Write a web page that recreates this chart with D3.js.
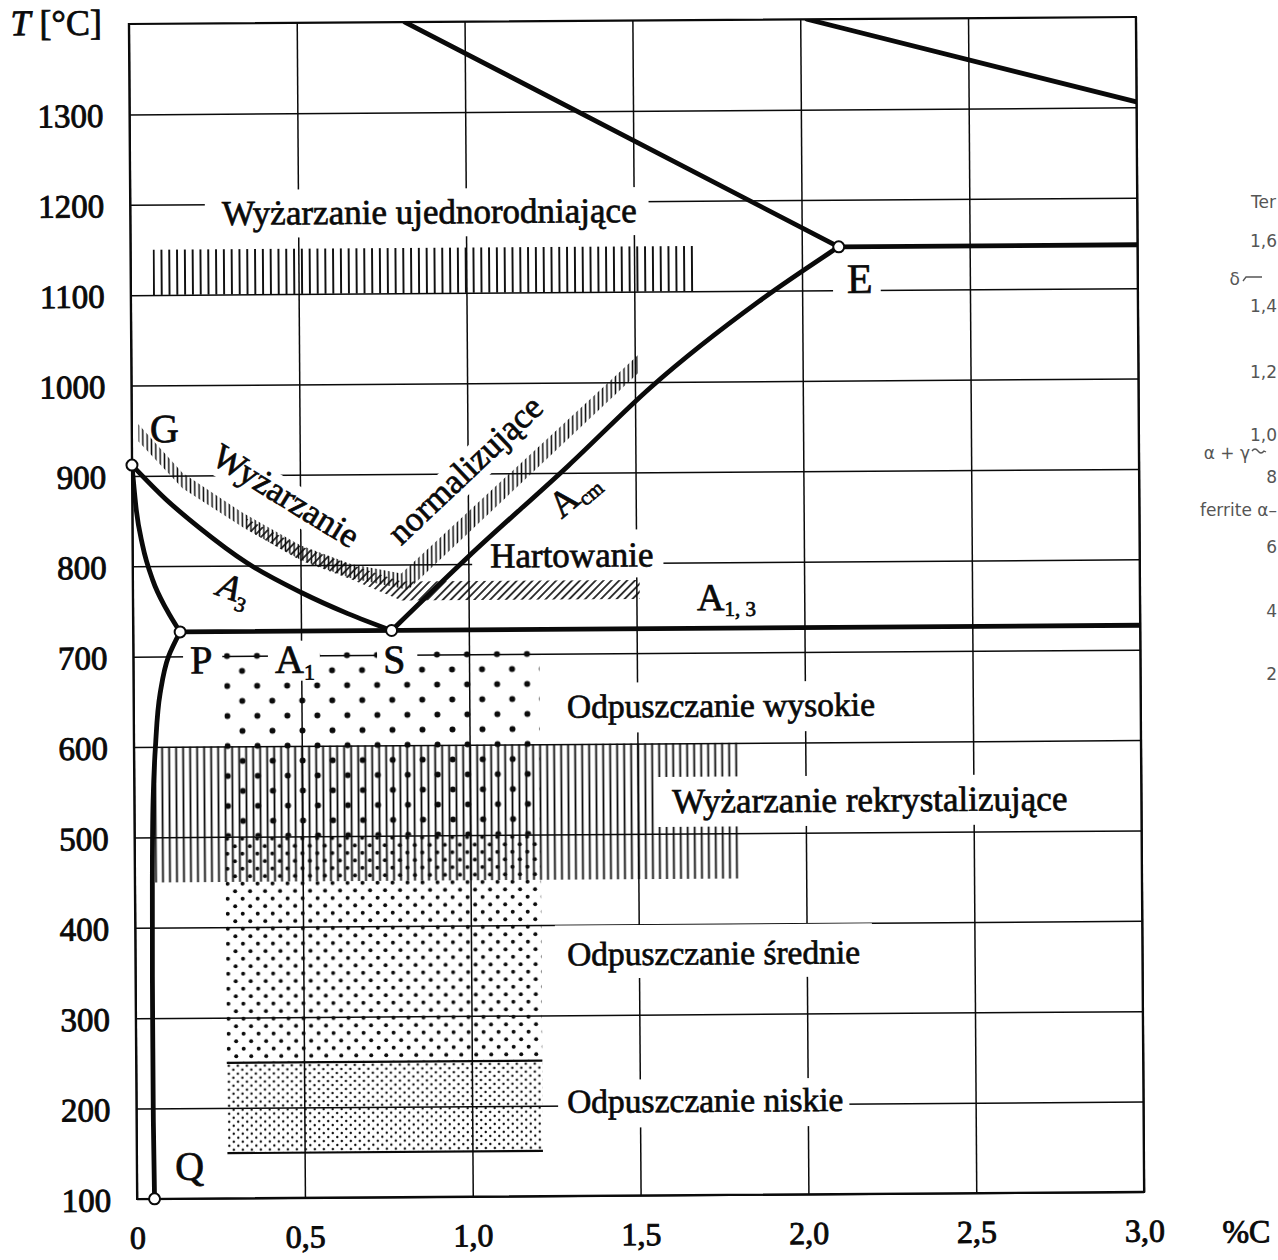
<!DOCTYPE html>
<html>
<head>
<meta charset="utf-8">
<script src="https://cdn.jsdelivr.net/npm/d3@7"></script>
<style>
  html, body { margin: 0; padding: 0; background: #fff; }
  svg { display: block; }
</style>
</head>
<body>
<svg id="chart" width="1278" height="1260"></svg>
<script>
// ---- axis ticks ----
const carbonTicks = [0, 0.5, 1.0, 1.5, 2.0, 2.5, 3.0];
const carbonTickLabels = ["0", "0,5", "1,0", "1,5", "2,0", "2,5", "3,0"];
const tempTicks = [100, 200, 300, 400, 500, 600, 700, 800, 900, 1000, 1100, 1200, 1300];
const tempTickLabels = ["100", "200", "300", "400", "500", "600", "700", "800", "900", "1000", "1100", "1200", "1300"];

// ---- Fe–Fe3C phase boundaries, [%C, °C] ----
const lineGS = [[0, 912], [0.1, 874], [0.2, 842], [0.34, 803], [0.5, 770], [0.64, 746], [0.77, 727]];
const lineGP = [[0, 912], [0.012, 862], [0.03, 823], [0.06, 784], [0.1, 752], [0.14, 727]];
const linePQ = [[0.14, 727], [0.105, 700], [0.079, 659], [0.064, 600], [0.056, 541], [0.052, 450], [0.05, 300], [0.05, 200], [0.052, 100]];
const linePSK = [[0.14, 727], [3.0, 727]];
const lineSE = [[0.77, 727], [1.0, 808], [1.3, 908], [1.55, 995], [1.87, 1088], [2.11, 1148]];
const lineECF = [[2.11, 1148], [3.0, 1148]];
const lineJE = [[0.822, 1400], [2.11, 1148]];
const lineBC = [[2.02, 1400], [3.0, 1306]];

// ---- characteristic points ----
const pointNames = ["G", "P", "S", "E", "Q"];
const pointC = [0, 0.14, 0.77, 2.11, 0.052];
const pointT = [912, 727, 727, 1148, 100];

// ---- heat-treatment ranges: [%C from, %C to, °C from, °C to] ----
const rangeHomogenizing = [0.066, 1.68, 1100, 1150];
const rangeRecrystallizing = [0.06, 1.8, 450, 600];
const rangeTemperHigh = [0.27, 1.21, 500, 700];
const rangeTemperMedium = [0.27, 1.21, 250, 500];
const rangeTemperLow = [0.27, 1.21, 150, 250];

// normalizing band (upper edge then lower edge), [%C, °C]
const normalizingUpper = [[0.02, 957], [0.15, 903], [0.33, 858], [0.5, 822], [0.65, 801], [0.8, 790], [1.51, 1030]];
const normalizingLower = [[1.51, 1010], [0.82, 772], [0.65, 785], [0.5, 806], [0.33, 842], [0.15, 886], [0.02, 938]];
// hardening band
const hardeningUpper = [[0.34, 852], [0.5, 821], [0.65, 800], [0.8, 781], [1.51, 781]];
const hardeningLower = [[1.51, 760], [0.8, 760], [0.65, 784], [0.5, 805], [0.34, 840]];

// ---- setup ----
const serif = '"Liberation Serif","Times New Roman",serif';
const ink = "#0a0a0a";
const svg = d3.select("#chart");
const defs = svg.append("defs");

const x = d3.scaleLinear().domain([0, 3]).range([133, 1140]);
const y = d3.scaleLinear().domain([100, 1400]).range([1195.5, 20.5]);

// the whole plate sits very slightly tilted
const root = svg.append("g").attr("transform", "rotate(-0.4,635,610)");

defs.append("clipPath").attr("id", "plotClip")
  .append("rect").attr("x", x(0)).attr("y", y(1400))
  .attr("width", x(3) - x(0)).attr("height", y(100) - y(1400));

// ---- patterns ----
function linePattern(id, step, sw, ox, oy, transform) {
  const p = defs.append("pattern").attr("id", id)
    .attr("patternUnits", "userSpaceOnUse")
    .attr("width", step).attr("height", 20)
    .attr("x", ox).attr("y", oy);
  if (transform) p.attr("patternTransform", transform);
  p.append("line").attr("x1", step / 2).attr("x2", step / 2)
    .attr("y1", -2).attr("y2", 22)
    .attr("stroke", ink).attr("stroke-width", sw);
}
function dotPattern(id, w, h, r, ox, oy) {
  const p = defs.append("pattern").attr("id", id)
    .attr("patternUnits", "userSpaceOnUse")
    .attr("width", w).attr("height", h)
    .attr("x", ox).attr("y", oy);
  [[w / 4, h / 4], [3 * w / 4, 3 * h / 4]].forEach(([cx, cy]) =>
    p.append("circle").attr("cx", cx).attr("cy", cy).attr("r", r).attr("fill", ink));
}

linePattern("hatchHomog", 7.8, 1.9, x(rangeHomogenizing[0]) - 2.9, 0);
linePattern("hatchRecryst", 7.0, 1.8, x(rangeRecrystallizing[0]) - 2.5, 0);
linePattern("ticksNorm", 4.3, 1.5, 0, 0);
linePattern("hatchHard", 5.6, 1.6, 0, 0, "rotate(45)");
dotPattern("dotsHigh", 30, 30, 3.0, x(rangeTemperHigh[0]) + 3 - 7.5, y(rangeTemperHigh[3]) - 7.5);
dotPattern("dotsMedium", 15, 15, 2.0, x(rangeTemperMedium[0]) + 2 - 3.75, y(rangeTemperMedium[3]) + 2 - 3.75);
dotPattern("dotsLow", 9, 8, 1.2, x(rangeTemperLow[0]) + 2 - 2.25, y(rangeTemperLow[3]) + 3 - 2);

// ---- axes with full-length ticks as the grid ----
const xAxis = d3.axisBottom(x).tickValues(carbonTicks)
  .tickFormat((d, i) => carbonTickLabels[i])
  .tickSize(-(y(100) - y(1400))).tickPadding(27);
const gx = root.append("g").attr("transform", `translate(0,${y(100)})`).call(xAxis);
gx.select(".domain").remove();
gx.selectAll(".tick line").attr("stroke", ink).attr("stroke-width", 1.5);
gx.selectAll(".tick text").attr("font-family", serif).attr("font-size", 32)
  .attr("fill", ink).attr("stroke", ink).attr("stroke-width", 0.9);

const yAxis = d3.axisLeft(y).tickValues(tempTicks)
  .tickFormat((d, i) => tempTickLabels[i])
  .tickSize(-(x(3) - x(0))).tickPadding(26);
const gy = root.append("g").attr("transform", `translate(${x(0)},0)`).call(yAxis);
gy.select(".domain").remove();
gy.selectAll(".tick line").attr("stroke", ink).attr("stroke-width", 1.5);
gy.selectAll(".tick text").attr("font-family", serif).attr("font-size", 33)
  .attr("dy", "0.36em")
  .attr("fill", ink).attr("stroke", ink).attr("stroke-width", 0.9);

// ---- heat-treatment zones ----
const zones = root.append("g");
function zoneRect(range, fill, extraTop) {
  const [c0, c1, t0, t1] = range;
  zones.append("rect")
    .attr("x", x(c0)).attr("width", x(c1) - x(c0))
    .attr("y", y(t1) - (extraTop || 0)).attr("height", y(t0) - y(t1) + (extraTop || 0))
    .attr("fill", `url(#${fill})`);
}
zoneRect(rangeHomogenizing, "hatchHomog");
zoneRect(rangeRecrystallizing, "hatchRecryst");
zoneRect(rangeTemperHigh, "dotsHigh", 3.5);
zoneRect(rangeTemperMedium, "dotsMedium");
zoneRect(rangeTemperLow, "dotsLow");
// low-tempering range is boxed top and bottom
[rangeTemperLow[2], rangeTemperLow[3]].forEach(t =>
  zones.append("line").attr("x1", x(rangeTemperLow[0])).attr("x2", x(rangeTemperLow[1]))
    .attr("y1", y(t)).attr("y2", y(t)).attr("stroke", ink).attr("stroke-width", 2.2));

const poly = d3.line().x(d => x(d[0])).y(d => y(d[1]));
zones.append("path").attr("d", poly(normalizingUpper.concat(normalizingLower)) + "Z")
  .attr("fill", "url(#ticksNorm)");
zones.append("path").attr("d", poly(hardeningUpper.concat(hardeningLower)) + "Z")
  .attr("fill", "url(#hatchHard)");

// ---- labels (white backing where they interrupt grid lines) ----
const labels = root.append("g");
function label(txt, c, t, o) {
  const size = o.size || 34;
  const g = labels.append("g")
    .attr("transform", `translate(${x(c)},${y(t)}) rotate(${o.angle || 0})`);
  const rect = g.append("rect").attr("fill", "#fff");
  const text = g.append("text")
    .attr("font-family", serif).attr("font-size", size)
    .attr("text-anchor", o.anchor || "start")
    .attr("fill", ink).attr("stroke", ink).attr("stroke-width", o.weight == null ? 0.7 : o.weight);
  if (o.italic) text.attr("font-style", "italic");
  text.append("tspan").text(txt);
  if (o.sub) {
    text.append("tspan").attr("font-size", o.subSize || size * 0.58)
      .attr("font-style", "normal")
      .attr("dy", o.subDy || size * 0.22).text(o.sub);
  }
  if (o.box) {
    const bb = text.node().getBBox();
    const [pl, pr, pt, pb] = o.box;
    rect.attr("x", bb.x - pl).attr("width", bb.width + pl + pr)
      .attr("y", -pt).attr("height", pt + pb);
  } else {
    rect.remove();
  }
  return g;
}

label("Wyżarzanie ujednorodniające", 0.273, 1177, { size: 35, box: [17, 12, 35, 13] });
label("Hartowanie", 1.065, 796, { size: 35, box: [18, 10, 37, 11] });
label("Odpuszczanie wysokie", 1.291, 629, { size: 33.5, box: [12, 14, 35, 15] });
label("Wyżarzanie rekrystalizujące", 1.602, 523, { size: 35, box: [15, 10, 36, 14] });
label("Odpuszczanie średnie", 1.286, 355, { size: 33.5, box: [12, 12, 40, 13] });
label("Odpuszczanie niskie", 1.283, 192, { size: 33.5, box: [9, 6, 33, 15] });
label("Wyżarzanie", 0.44, 866, { size: 35, anchor: "middle", angle: 32, box: [6, 6, 27, 9] });
label("normalizujące", 1.016, 895, { size: 35, anchor: "middle", angle: -43, box: [6, 6, 27, 9] });
label("A", 0.29, 762, { size: 36, italic: true, anchor: "middle", angle: 20, sub: "3", subSize: 21, subDy: 8 });
label("A", 1.338, 867, { size: 37, anchor: "middle", angle: -40, sub: "cm", subSize: 21, subDy: 6 });
label("A", 1.68, 747, { size: 38, sub: "1, 3", subSize: 21, subDy: 6 });
label("A", 0.422, 681, { size: 40, sub: "1", subSize: 22, subDy: 7, box: [7, 5, 32, 8] });
label("P", 0.169, 681, { size: 40, box: [7, 10, 32, 8] });
label("S", 0.744, 680, { size: 40, box: [6, 12, 32, 8] });
label("E", 2.134, 1097, { size: 42, box: [14, 8, 32, 8] });
label("G", 0.054, 937, { size: 40 });
label("Q", 0.114, 121, { size: 40 });

// ---- phase diagram lines ----
const phase = root.append("g").attr("clip-path", "url(#plotClip)")
  .attr("fill", "none").attr("stroke", ink).attr("stroke-width", 4.8)
  .attr("stroke-linejoin", "round").attr("stroke-linecap", "round");
const curveX = d3.line().x(d => x(d[0])).y(d => y(d[1])).curve(d3.curveMonotoneX);
const curveY = d3.line().x(d => x(d[0])).y(d => y(d[1])).curve(d3.curveMonotoneY);
[lineGS, lineGP, linePSK, lineSE, lineECF, lineJE, lineBC].forEach(l =>
  phase.append("path").attr("d", curveX(l)));
phase.append("path").attr("d", curveY(linePQ));

// frame
root.append("rect").attr("x", x(0)).attr("y", y(1400))
  .attr("width", x(3) - x(0)).attr("height", y(100) - y(1400))
  .attr("fill", "none").attr("stroke", ink).attr("stroke-width", 2.2);

// characteristic points
root.append("g").selectAll("circle").data(pointNames).join("circle")
  .attr("cx", (d, i) => x(pointC[i])).attr("cy", (d, i) => y(pointT[i]))
  .attr("r", 5.5).attr("fill", "#fff").attr("stroke", ink).attr("stroke-width", 2);

// axis titles
const title = root.append("text").attr("x", x(0) - 27).attr("y", 31)
  .attr("text-anchor", "end").attr("font-family", serif).attr("font-size", 36)
  .attr("fill", ink).attr("stroke", ink).attr("stroke-width", 0.8);
title.append("tspan").attr("font-style", "italic").text("T");
title.append("tspan").text(" [°C]");
root.append("text").attr("x", x(3) + 102).attr("y", y(100) + 51)
  .attr("text-anchor", "middle").attr("font-family", serif).attr("font-size", 32)
  .attr("fill", ink).attr("stroke", ink).attr("stroke-width", 0.9).text("%C");

// ---- edge of the neighbouring figure on the page ----
const side = svg.append("g").attr("font-family", '"DejaVu Sans",sans-serif')
  .attr("font-size", 17).attr("fill", "#555");
const sideTexts = [["Ter", 1276, 208], ["1,6", 1277, 247], ["δ", 1240, 285], ["1,4", 1277, 312],
  ["1,2", 1277, 378], ["1,0", 1277, 441], ["α + γ", 1250, 459], ["8", 1277, 483],
  ["ferrite α–", 1277, 516], ["6", 1277, 553], ["4", 1277, 617], ["2", 1277, 680]];
side.selectAll("text").data(sideTexts).join("text")
  .attr("text-anchor", "end")
  .attr("x", d => d[1]).attr("y", d => d[2]).text(d => d[0]);
side.append("path").attr("d", "M1243,281 L1246,277 L1262,277")
  .attr("fill", "none").attr("stroke", "#555").attr("stroke-width", 1.3);
side.append("path").attr("d", "M1252,451 q3,-4 6,0 q3,4 6,0 L1266,452")
  .attr("fill", "none").attr("stroke", "#555").attr("stroke-width", 1.3);
</script>
</body>
</html>
